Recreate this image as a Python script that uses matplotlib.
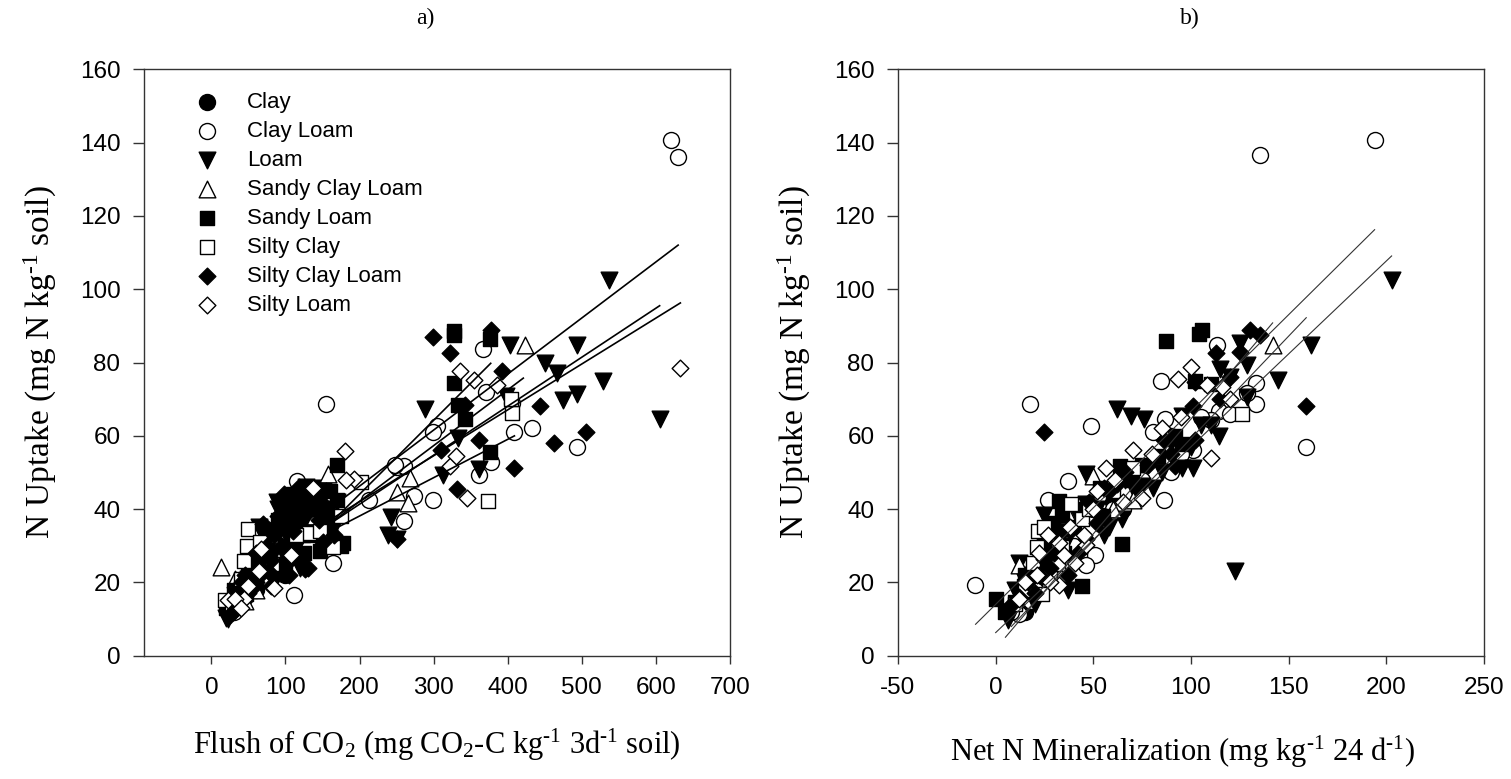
import matplotlib
matplotlib.use("Agg")
import matplotlib.pyplot as plt
import numpy as np

plt.rcParams["font.family"] = ["Liberation Sans", "DejaVu Sans"]
plt.rcParams["mathtext.fontset"] = "custom"
plt.rcParams["mathtext.rm"] = "Liberation Serif"
plt.rcParams["mathtext.it"] = "Liberation Serif:italic"
plt.rcParams["axes.unicode_minus"] = False

categories = ["Clay", "Clay Loam", "Loam", "Sandy Clay Loam", "Sandy Loam",
              "Silty Clay", "Silty Clay Loam", "Silty Loam"]

# ---- panel a: flush of CO2 vs N uptake ----
a_clay_x = [35, 60, 85, 110, 130, 150, 75, 100, 45, 70, 95, 120, 140, 160, 105]
a_clay_y = [13, 18, 26, 35, 42, 30, 33, 22, 16, 25, 33, 38, 35, 38, 28]

a_clayloam_x = [621, 630, 155, 367, 371, 304, 299, 409, 433, 493, 361, 378, 299, 260, 251, 260,
                213, 273, 116, 111, 164, 134, 150, 406, 35, 58, 88, 30, 125, 248]
a_clayloam_y = [140.8, 136.2, 68.7, 83.8, 72, 62.6, 61, 61, 62, 56.9, 49.3, 52.9, 42.6, 36.7, 51.6, 51.8,
                42.4, 43.7, 47.8, 16.5, 25.4, 39.4, 40.5, 69, 13.5, 20, 27.5, 12, 35, 52]

a_loam_x = [537, 605, 403, 493, 450, 467, 529, 474, 493, 288, 243, 238, 251, 313, 361, 333, 398,
            20, 70, 114, 140, 88, 64, 22, 30, 40, 55, 85, 95, 105, 120, 130, 100, 75, 60, 45, 150, 160, 115, 135, 90,
            25, 35, 50, 65, 80, 95, 110, 125, 140, 165, 170, 105, 85, 45, 120, 145, 155, 128]
a_loam_y = [102.5, 64.7, 84.9, 84.7, 79.8, 77.1, 75, 69.8, 71.4, 67.4, 37.8, 32.9, 31.8, 49.3, 51, 59.3, 70.9,
            10.2, 33, 43, 45.8, 42, 35, 10, 13, 15, 18, 28, 33, 38, 42, 40, 27, 31, 25, 20, 45, 40, 30, 35, 40,
            12, 16, 21, 27, 31, 36, 40, 44, 40, 35, 42, 25, 20, 17, 24, 33, 37, 46]

a_scl_x = [13, 423, 158, 268, 251, 265, 32, 123, 60, 90, 140, 45]
a_scl_y = [24.3, 84.9, 49.6, 48.5, 44.8, 41.7, 21, 36, 18, 33, 38, 15]

a_sandyloam_x = [327, 327, 376, 327, 333, 342, 170, 178, 146, 376, 170, 47, 99, 123,
                 20, 40, 60, 80, 100, 120, 135, 150, 160, 110, 90, 55, 140, 175,
                 30, 50, 70, 85, 115, 130, 145, 160, 125, 95, 105, 155]
a_sandyloam_y = [88.5, 87.4, 86.3, 74.4, 68.5, 64.7, 52, 30.7, 28.6, 55.6, 42.6, 16.7, 24.3, 33,
                 13, 17, 20, 24, 30, 35, 40, 38, 33, 44, 37, 26, 45, 30,
                 18, 22, 28, 34, 38, 33, 42, 45, 28, 25, 41, 36]

a_siltyclay_x = [374, 406, 404, 49, 48, 44, 82, 132, 114, 164, 146, 202, 18, 28, 40, 65, 175]
a_siltyclay_y = [42.3, 66.3, 70, 34.5, 29.9, 25.9, 25.1, 33.4, 33, 29.7, 34, 47.5, 15.1, 13, 21, 31, 38]

a_scloam_x = [299, 377, 322, 392, 443, 462, 506, 409, 361, 342, 332, 251, 310, 96, 88, 126, 29, 58, 76, 41,
              25, 35, 50, 65, 80, 95, 110, 125, 140, 155, 100, 70, 85, 120, 130, 60, 105,
              30, 45, 60, 75, 90, 105, 115, 135, 145, 165, 80, 110, 150, 118, 138, 98]
a_scloam_y = [87, 89, 82.7, 77.7, 68, 57.9, 61, 51.2, 58.8, 68.5, 45.6, 31.8, 56.1, 42, 36, 23.7, 11.9, 18.9, 23.2, 20,
              11, 14, 17, 22, 26, 30, 34, 38, 43, 45, 40, 36, 33, 28, 24, 20, 22,
              15, 22, 28, 30, 38, 42, 39, 44, 37, 33, 19, 27, 31, 46, 41, 44]

a_siltloam_x = [633, 336, 354, 386, 345, 322, 330, 180, 193, 181, 64, 85, 22, 44, 32, 108, 67, 137, 50, 40]
a_siltloam_y = [78.5, 77.7, 75.2, 73.9, 43.1, 51.8, 54.5, 55.8, 48.2, 48, 23.2, 18.5, 15.1, 15.4, 15.4, 27.5, 29, 45.8,
                19, 13]

# ---- panel b: net N mineralization vs N uptake ----
b_clay_x = [10, 30, 50, 20, 15, 25, 35, 45, 60]
b_clay_y = [14, 30, 40, 20, 12, 25, 35, 30, 42]

b_clayloam_x = [194, 135.4, -10.7, 17.4, 48.6, 158.9, 84.7, 86.8, 86.3, 36.8, 113.2, 133.1, 133.1, 114.2,
                110.3, 101.1, 80.6, 89.7, 50.9, 46.3, 12.1, 27, 128.5, 20, 60, 40, 95,
                8, 18, 30, 55, 65, 75, 90, 105, 120]
b_clayloam_y = [140.8, 136.5, 19.4, 68.7, 62.6, 56.9, 75, 64.7, 42.6, 47.8, 84.7, 74.4, 68.7, 66.9,
                64.2, 56.1, 61, 50.2, 27.5, 24.8, 11.3, 42.6, 71.7, 18, 40, 30, 55,
                12, 15, 30, 38, 40, 48, 60, 65, 66]

b_loam_x = [202.7, 161.2, 144.5, 122.4, 114.2, 125.1, 128.5, 128.5, 114.8, 62.3, 69.2, 76, 95.4, 95.4,
            74.9, 80.6, 46.3, 64.6, 24.7, 6.4, 37.2, 46.3, 55.5, 12.1, 101.1, 15, 30, 8, 120, 105,
            18, 28, 35, 42, 52, 58, 66, 72, 85, 90, 100, 110, 20, 10]
b_loam_y = [102.5, 84.9, 75.2, 23.2, 59.9, 85.2, 70.7, 79.3, 78.2, 67.4, 65.3, 64.7, 65.3, 51.2,
            46.4, 45.8, 49.6, 37.2, 38.3, 9.7, 17.8, 41.5, 32.9, 25.4, 51.2, 20, 26, 12, 76, 63,
            22, 33, 30, 38, 40, 35, 48, 44, 50, 58, 57, 63, 14, 18]

b_scl_x = [141.8, 70.3, 49.8, 12.1, 37.2, 25, 60]
b_scl_y = [84.9, 42.6, 49.1, 24.8, 38.3, 28, 40]

b_sandyloam_x = [87.4, 104.1, 105.7, 101.8, 64.6, 44.1, 0, 63.5, 82.9, 95.4, 32.6, 33.8, 14.4, 9.8, 28.1, 53.2,
                 20, 25, 40, 75, 5, 15, 25, 35, 45, 55, 70, 92, 110]
b_sandyloam_y = [86, 87.9, 89, 75, 30.5, 19.1, 15.6, 51.8, 54.5, 57.7, 42.1, 38.3, 18.9, 14.6, 36.1, 45.8,
                 25, 30, 35, 52, 12, 22, 33, 28, 40, 38, 48, 60, 74]

b_siltyclay_x = [126.3, 21.9, 21.2, 38.4, 19, 23.5, 70.3, 33.8, 44.1, 15, 28, 10, 25, 32, 48, 60]
b_siltyclay_y = [66, 34, 29.7, 41.5, 25.4, 16.7, 51.2, 29.7, 37.2, 18, 22, 14, 35, 25, 40, 45]

b_scloam_x = [24.7, 158.9, 130.1, 135.4, 112.6, 101.1, 102.3, 102.3, 86.3, 92, 55.5, 62.3, 52, 46.3, 32.6,
              24.7, 16.7, 7.5, 37.2, 28, 42, 20,
              12, 22, 30, 38, 48, 58, 66, 78, 90, 115, 120, 125]
b_scloam_y = [61, 68, 89, 87.4, 82.7, 68, 74.8, 58.8, 58.8, 51.8, 45.8, 46.9, 36.1, 31.8, 32.9,
              26.4, 20, 13.5, 22.1, 24, 28, 17,
              16, 22, 28, 34, 42, 45, 50, 52, 55, 70, 76, 83]

b_siltloam_x = [100, 93.2, 110.3, 70.3, 74.9, 56.6, 61.2, 34.9, 40.6, 32.6, 21.2, 12.1, 108, 116, 46.3, 32.6,
                27, 50, 85, 15, 22, 28, 38, 45, 52, 65, 80, 95, 120]
b_siltloam_y = [78.7, 75.5, 53.9, 56.1, 43.1, 51.2, 48, 27.5, 25.4, 30.7, 22.1, 15.6, 73.9, 73.4, 30.2, 19.4,
                33, 40, 62, 20, 28, 20, 35, 33, 45, 42, 55, 65, 70]

a_x = [a_clay_x, a_clayloam_x, a_loam_x, a_scl_x, a_sandyloam_x, a_siltyclay_x, a_scloam_x, a_siltloam_x]
a_y = [a_clay_y, a_clayloam_y, a_loam_y, a_scl_y, a_sandyloam_y, a_siltyclay_y, a_scloam_y, a_siltloam_y]
b_x = [b_clay_x, b_clayloam_x, b_loam_x, b_scl_x, b_sandyloam_x, b_siltyclay_x, b_scloam_x, b_siltloam_x]
b_y = [b_clay_y, b_clayloam_y, b_loam_y, b_scl_y, b_sandyloam_y, b_siltyclay_y, b_scloam_y, b_siltloam_y]

# regression lines: slope, intercept and x span
fit_a_slope = [0.1529, 0.1337, 0.1252, 0.2018, 0.1521, 0.1046]
fit_a_icpt = [15.7, 14.6, 17.0, 3.7, 11.7, 17.2]
fit_a_x0 = [150, 160, 160, 160, 160, 170]
fit_a_x1 = [630, 605, 633, 377, 421, 409]

fit_b_slope = [0.527, 0.507, 0.627, 0.558]
fit_b_icpt = [14.0, 6.3, 1.9, 3.5]
fit_b_x0 = [-10.3, 0, 5, 8]
fit_b_x1 = [194, 202.7, 141.8, 159]

styles = [
    dict(marker="o", fc="black", ms=11.5),
    dict(marker="o", fc="white", ms=11.5),
    dict(marker="v", fc="black", ms=12),
    dict(marker="^", fc="white", ms=12),
    dict(marker="s", fc="black", ms=10.5),
    dict(marker="s", fc="white", ms=10.5),
    dict(marker="D", fc="black", ms=8.5),
    dict(marker="D", fc="white", ms=8.5),
]

fig = plt.figure(figsize=(15.11, 7.79), dpi=100)
ax_a = fig.add_axes([144 / 1511, 1 - 655.7 / 779, 586 / 1511, 586.4 / 779])
ax_b = fig.add_axes([898 / 1511, 1 - 655.7 / 779, 586 / 1511, 586.4 / 779])

spine_col = "#333333"
tick_fs = 17.5


def style_axes(ax, xlim, xticks):
    ax.set_xlim(*xlim)
    ax.set_ylim(0, 160)
    ax.set_xticks(xticks)
    ax.set_yticks(np.arange(0, 161, 20))
    for sp in ax.spines.values():
        sp.set_color(spine_col)
        sp.set_linewidth(1.0)
    ax.tick_params(axis="x", direction="out", length=6, width=1, color=spine_col,
                   labelsize=tick_fs, pad=9)
    ax.tick_params(axis="y", direction="out", length=8, width=1, color=spine_col,
                   labelsize=tick_fs, pad=9)


handles = []
for i, name in enumerate(categories):
    st = styles[i]
    h = ax_a.scatter(a_x[i], a_y[i], marker=st["marker"], s=st["ms"] ** 2, facecolor=st["fc"],
                     edgecolor="black", linewidths=1.0, zorder=3 + i, label=name)
    handles.append(h)
    ax_b.scatter(b_x[i], b_y[i], marker=st["marker"], s=st["ms"] ** 2, facecolor=st["fc"],
                 edgecolor="black", linewidths=1.0, zorder=3 + i)

for m, c, x0, x1 in zip(fit_a_slope, fit_a_icpt, fit_a_x0, fit_a_x1):
    xs = np.array([x0, x1])
    ax_a.plot(xs, c + m * xs, color="black", lw=1.2, zorder=20)

for m, c, x0, x1 in zip(fit_b_slope, fit_b_icpt, fit_b_x0, fit_b_x1):
    xs = np.array([x0, x1])
    ax_b.plot(xs, c + m * xs, color="#333333", lw=0.8, zorder=20)

style_axes(ax_a, (-91, 700), np.arange(0, 701, 100))
style_axes(ax_b, (-50, 250), np.arange(-50, 251, 50))

ax_a.legend(handles=handles, loc="upper left", bbox_to_anchor=(0.09, 0.962), frameon=False,
            fontsize=16, handlelength=0.9, handletextpad=1.35, labelspacing=0.36,
            borderpad=0, borderaxespad=0, scatterpoints=1)

serif = ["Liberation Serif", "DejaVu Serif"]
ylab = r"N Uptake (mg N kg$^{\text{-1}}$ soil)"
for ax in (ax_a, ax_b):
    ax.set_ylabel(ylab, family=serif, fontsize=24, va="center")
    ax.yaxis.set_label_coords(-0.177, 0.5)

ax_a.set_xlabel(r"Flush of CO$_{\mathrm{2}}$ (mg CO$_{\mathrm{2}}$-C kg$^{\text{-1}}$ 3d$^{\text{-1}}$ soil)",
                family=serif, fontsize=22, va="center")
ax_a.xaxis.set_label_coords(0.5, -0.152)
ax_b.set_xlabel(r"Net N Mineralization (mg kg$^{\text{-1}}$ 24 d$^{\text{-1}}$)", family=serif,
                fontsize=22, va="center")
ax_b.xaxis.set_label_coords(0.486, -0.164)

fig.text(425 / 1511, 1 - 18 / 779, "a)", family=serif, fontsize=17, ha="center", va="center")
fig.text(1190 / 1511, 1 - 18 / 779, "b)", family=serif, fontsize=17, ha="center", va="center")

fig.savefig("out.png", dpi=100)
